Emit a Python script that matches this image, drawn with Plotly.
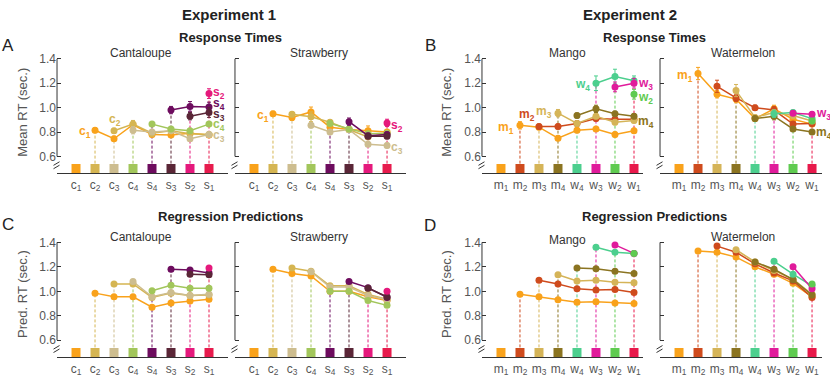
import plotly.graph_objects as go

# category labels and colours (x order of every panel)
exp1_labels = ["c<sub>1</sub>", "c<sub>2</sub>", "c<sub>3</sub>", "c<sub>4</sub>",
               "s<sub>4</sub>", "s<sub>3</sub>", "s<sub>2</sub>", "s<sub>1</sub>"]
exp1_colors = ["#F9A21B", "#D5B552", "#CDBD8F", "#A2C65B",
               "#6D0C5E", "#5A2637", "#E5197C", "#E71B4D"]
exp2_labels = ["m<sub>1</sub>", "m<sub>2</sub>", "m<sub>3</sub>", "m<sub>4</sub>",
               "w<sub>4</sub>", "w<sub>3</sub>", "w<sub>2</sub>", "w<sub>1</sub>"]
exp2_colors = ["#F9A21B", "#CF4B1D", "#D5B458", "#8B7421",
               "#4CCF8E", "#E01B9B", "#5FCB50", "#E8194B"]

# row k = item k, values from position k+2 to the last position
rt_cantaloupe = [
    [0.815, 0.745, 0.86, 0.78, 0.775, 0.79, 0.775],
    [0.81, 0.865, 0.79, 0.81, 0.785, 0.78],
    [0.815, 0.80, 0.81, 0.745, 0.78],
    [0.865, 0.825, 0.81, 0.865],
    [0.98, 1.01, 1.005],
    [0.93, 0.96],
    [1.115],
]
rt_cantaloupe_err = [
    [0.02, 0.02, 0.025, 0.02, 0.02, 0.02, 0.02],
    [0.02, 0.03, 0.025, 0.02, 0.02, 0.02],
    [0.03, 0.02, 0.02, 0.02, 0.02],
    [0.02, 0.02, 0.02, 0.02],
    [0.03, 0.04, 0.04],
    [0.03, 0.04],
    [0.04],
]
rt_strawberry = [
    [0.95, 0.92, 0.965, 0.84, 0.82, 0.81, 0.80],
    [0.945, 0.925, 0.88, 0.82, 0.76, 0.785],
    [0.855, 0.80, 0.82, 0.70, 0.69],
    [0.87, 0.825, 0.785, 0.79],
    [0.885, 0.77, 0.78],
    [0.765, 0.765],
    [0.875],
]
rt_strawberry_err = [
    [0.02, 0.025, 0.04, 0.02, 0.02, 0.04, 0.02],
    [0.02, 0.04, 0.02, 0.02, 0.02, 0.02],
    [0.02, 0.02, 0.02, 0.02, 0.02],
    [0.02, 0.02, 0.02, 0.02],
    [0.03, 0.02, 0.02],
    [0.02, 0.02],
    [0.03],
]
rt_mango = [
    [0.855, 0.84, 0.75, 0.815, 0.825, 0.78, 0.81],
    [0.845, 0.845, 0.87, 0.91, 0.905, 0.905],
    [0.955, 0.87, 0.93, 0.88, 0.895],
    [0.935, 0.99, 0.95, 0.93],
    [1.20, 1.255, 1.22],
    [1.17, 1.20],
    [1.11],
]
rt_mango_err = [
    [0.03, 0.02, 0.02, 0.02, 0.02, 0.02, 0.02],
    [0.02, 0.02, 0.02, 0.02, 0.02, 0.02],
    [0.03, 0.02, 0.02, 0.02, 0.02],
    [0.02, 0.03, 0.02, 0.02],
    [0.06, 0.06, 0.04],
    [0.04, 0.04],
    [0.04],
]
rt_watermelon = [
    [1.28, 1.11, 1.07, 0.91, 0.99, 0.905, 0.865],
    [1.175, 1.08, 1.00, 0.98, 0.865, 0.87],
    [1.14, 0.92, 0.96, 0.935, 0.89],
    [0.91, 0.93, 0.825, 0.80],
    [0.95, 0.96, 0.91],
    [0.955, 0.945],
    [0.89],
]
rt_watermelon_err = [
    [0.05, 0.03, 0.03, 0.02, 0.03, 0.02, 0.02],
    [0.05, 0.03, 0.02, 0.03, 0.02, 0.02],
    [0.05, 0.02, 0.02, 0.02, 0.02],
    [0.02, 0.03, 0.02, 0.02],
    [0.03, 0.02, 0.02],
    [0.02, 0.02],
    [0.02],
]

pred_cantaloupe = [
    [0.985, 0.955, 0.955, 0.87, 0.905, 0.92, 0.935],
    [1.06, 1.06, 0.95, 0.985, 0.965, 0.97],
    [1.08, 0.955, 0.99, 0.965, 0.975],
    [1.005, 1.05, 1.025, 1.025],
    [1.18, 1.175, 1.15],
    [1.14, 1.135],
    [1.19],
]
pred_strawberry = [
    [1.18, 1.145, 1.125, 1.0, 1.0, 0.955, 0.925],
    [1.19, 1.165, 1.045, 1.045, 0.975, 0.935],
    [1.16, 1.035, 1.035, 0.965, 0.93],
    [1.0, 1.0, 0.925, 0.885],
    [1.08, 1.03, 0.95],
    [1.025, 0.955],
    [1.0],
]
pred_mango = [
    [0.975, 0.955, 0.93, 0.91, 0.915, 0.905, 0.90],
    [1.09, 1.06, 1.02, 1.01, 1.015, 0.99],
    [1.135, 1.085, 1.09, 1.075, 1.07],
    [1.19, 1.185, 1.165, 1.145],
    [1.36, 1.32, 1.31],
    [1.38, 1.31],
    [1.31],
]
pred_watermelon = [
    [1.33, 1.32, 1.28, 1.20, 1.14, 1.065, 0.955],
    [1.37, 1.32, 1.225, 1.15, 1.085, 0.95],
    [1.34, 1.24, 1.17, 1.10, 0.975],
    [1.24, 1.18, 1.095, 0.97],
    [1.245, 1.14, 1.045],
    [1.20, 1.02],
    [1.06],
]

y_ticks = [0.6, 0.8, 1.0, 1.2, 1.4]
SQUARE_ROW = 0.5
AXIS_COLOR = "#333333"
TEXT_GRAY = "#555555"

panels = [
    (exp1_labels, exp1_colors, rt_cantaloupe, rt_cantaloupe_err),
    (exp1_labels, exp1_colors, rt_strawberry, rt_strawberry_err),
    (exp2_labels, exp2_colors, rt_mango, rt_mango_err),
    (exp2_labels, exp2_colors, rt_watermelon, rt_watermelon_err),
    (exp1_labels, exp1_colors, pred_cantaloupe, None),
    (exp1_labels, exp1_colors, pred_strawberry, None),
    (exp2_labels, exp2_colors, pred_mango, None),
    (exp2_labels, exp2_colors, pred_watermelon, None),
]

x_domains = [(0.0687, 0.2747), (0.2831, 0.4892), (0.5807, 0.7753), (0.7952, 0.9898)]
x_ranges = [[0, 9], [0, 9], [0, 8.5], [0, 8.5]]
y_domains = [(0.5516, 0.8613), (0.0654, 0.3757)]

fig = go.Figure()
layout = {}
shapes = []

for i, (labels, colors, values, errors) in enumerate(panels):
    idx = i + 1
    row, col = divmod(i, 4)
    xa = "x" if idx == 1 else f"x{idx}"
    ya = "y" if idx == 1 else f"y{idx}"
    pos = list(range(1, len(labels) + 1))

    # dashed drops from the squares to where each line starts
    for k, vals in enumerate(values):
        p = pos[k + 1]
        fig.add_trace(go.Scatter(
            x=[p, p], y=[SQUARE_ROW, vals[0]], mode="lines",
            line=dict(color=colors[k + 1], width=1, dash="3px,2px"),
            xaxis=xa, yaxis=ya, hoverinfo="skip", showlegend=False))

    fig.add_trace(go.Scatter(
        x=pos, y=[SQUARE_ROW] * len(pos), mode="markers",
        marker=dict(symbol="square", size=9, color=colors),
        xaxis=xa, yaxis=ya, hoverinfo="skip", showlegend=False))

    for k, vals in enumerate(values):
        err = None
        if errors is not None:
            err = dict(type="data", array=errors[k], thickness=1, width=2,
                       color=colors[k])
        fig.add_trace(go.Scatter(
            x=pos[k + 1:], y=vals, mode="lines+markers",
            line=dict(color=colors[k], width=1.5),
            marker=dict(size=7, color=colors[k]),
            error_y=err, xaxis=xa, yaxis=ya, showlegend=False))

    layout["xaxis" if idx == 1 else f"xaxis{idx}"] = dict(
        domain=x_domains[col], range=x_ranges[col], anchor=ya,
        tickvals=pos, ticktext=labels, ticks="", showline=True,
        linecolor=AXIS_COLOR, linewidth=1, showgrid=False, zeroline=False,
        tickfont=dict(size=12, color=TEXT_GRAY), fixedrange=True)
    layout["yaxis" if idx == 1 else f"yaxis{idx}"] = dict(
        domain=y_domains[row], range=[0.46, 1.42], anchor=xa,
        tickvals=y_ticks, tickformat=".1f", ticks="inside", ticklen=4,
        tickcolor=AXIS_COLOR, showline=False, showgrid=False, zeroline=False,
        showticklabels=(col % 2 == 0),
        tickfont=dict(size=12, color=TEXT_GRAY), fixedrange=True)

    # y axis line only over the 0.6 - 1.4 part, plus the break mark
    shapes.append(dict(type="line", xref=f"{xa} domain", yref=ya,
                       x0=0, x1=0, y0=0.6, y1=1.4,
                       line=dict(color=AXIS_COLOR, width=1)))
    dx = 1.0 / ((x_domains[col][1] - x_domains[col][0]) * 830)
    for y0 in (0.499, 0.527):
        shapes.append(dict(type="line", xref=f"{xa} domain", yref=ya,
                           x0=-3.5 * dx, x1=2.5 * dx, y0=y0, y1=y0 + 0.029,
                           line=dict(color=AXIS_COLOR, width=1)))

annotations = []


def paper_text(text, x, y, size, bold=False, color="#222222", angle=0):
    annotations.append(dict(
        text=f"<b>{text}</b>" if bold else text, x=x / 830, y=1 - y / 382,
        xref="paper", yref="paper", showarrow=False, textangle=angle,
        font=dict(size=size, color=color), xanchor="center", yanchor="middle"))


paper_text("Experiment 1", 229, 11, 15, bold=True)
paper_text("Experiment 2", 630, 11, 15, bold=True)
paper_text("Response Times", 230, 34, 13, bold=True)
paper_text("Response Times", 654, 34, 13, bold=True)
paper_text("Regression Predictions", 230, 215, 13, bold=True)
paper_text("Regression Predictions", 654, 215, 13, bold=True)
for letter, lx, ly in [("A", 8, 42), ("B", 430, 42), ("C", 8, 223), ("D", 430, 224)]:
    paper_text(letter, lx, ly, 17)
for name, nx, ny in [("Cantaloupe", 141, 50), ("Strawberry", 319, 50),
                     ("Mango", 567, 50), ("Watermelon", 743, 50),
                     ("Cantaloupe", 141, 235), ("Strawberry", 319, 235),
                     ("Mango", 567, 238), ("Watermelon", 743, 235)]:
    paper_text(name, nx, ny, 12, color="#333333")
paper_text("Mean RT (sec.)", 23, 110, 13, color=TEXT_GRAY, angle=-90)
paper_text("Mean RT (sec.)", 447, 110, 13, color=TEXT_GRAY, angle=-90)
paper_text("Pred. RT (sec.)", 23, 293, 13, color=TEXT_GRAY, angle=-90)
paper_text("Pred. RT (sec.)", 447, 293, 13, color=TEXT_GRAY, angle=-90)

# line name labels: (panel, item index, x, y, anchor)
line_labels = [
    (1, 0, 1.82, 0.80, "right"), (1, 1, 3.05, 0.90, "center"),
    (1, 6, 8.15, 1.12, "left"), (1, 4, 8.15, 1.03, "left"),
    (1, 5, 8.15, 0.94, "left"), (1, 3, 8.15, 0.86, "left"),
    (1, 2, 8.15, 0.765, "left"),
    (2, 0, 1.85, 0.93, "right"), (2, 6, 8.15, 0.85, "left"),
    (2, 2, 8.15, 0.665, "left"),
    (3, 0, 1.75, 0.83, "right"), (3, 1, 2.35, 0.94, "center"),
    (3, 2, 3.75, 0.965, "right"), (3, 4, 5.75, 1.185, "right"),
    (3, 5, 8.15, 1.195, "left"), (3, 6, 8.15, 1.08, "left"),
    (3, 3, 8.15, 0.885, "left"),
    (4, 0, 1.8, 1.26, "right"), (4, 5, 8.15, 0.95, "left"),
    (4, 3, 8.15, 0.79, "left"),
]
for p, item, lx, ly, anchor in line_labels:
    labels, colors = panels[p - 1][0], panels[p - 1][1]
    annotations.append(dict(
        text=f"<b>{labels[item]}</b>", x=lx, y=ly,
        xref="x" if p == 1 else f"x{p}", yref="y" if p == 1 else f"y{p}",
        showarrow=False, xanchor=anchor, yanchor="middle", borderpad=0,
        font=dict(size=12, color=colors[item])))

fig.update_layout(
    width=830, height=382, margin=dict(l=0, r=0, t=0, b=0),
    paper_bgcolor="white", plot_bgcolor="white",
    font=dict(family="Liberation Sans, Arial, sans-serif", color="#222222"),
    shapes=shapes, annotations=annotations, **layout)

# the page's default body margin would push the 830x382 figure off the window
fig.write_html("out.html", config={"displayModeBar": False},
               post_script="document.body.style.margin='0';"
                           "document.body.style.overflow='hidden';")
